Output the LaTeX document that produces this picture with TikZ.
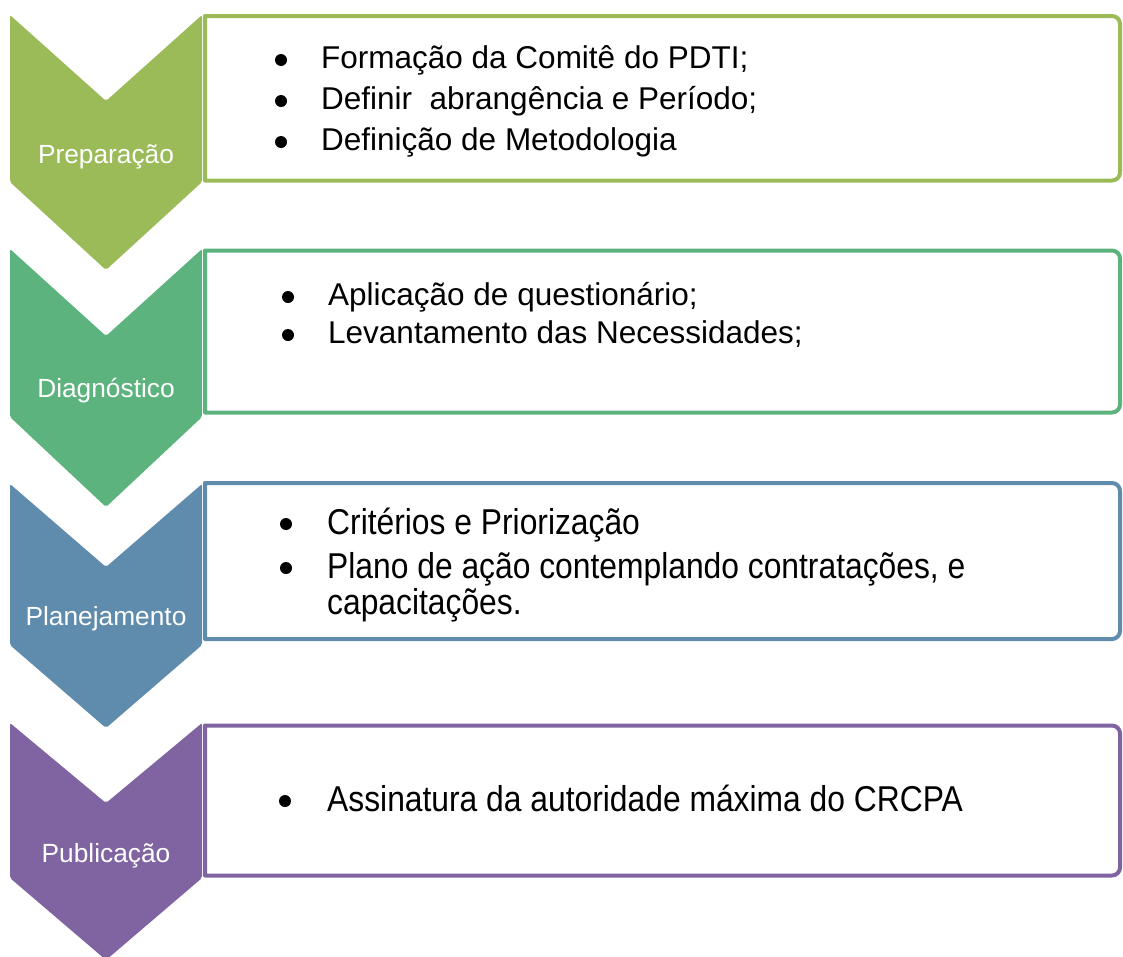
\documentclass[tikz,border=0pt]{standalone}
\usepackage{fontspec}
\setmainfont{Liberation Sans}
\definecolor{cA}{HTML}{9BBB59}
\definecolor{cB}{HTML}{5CB37D}
\definecolor{cC}{HTML}{5F8BAC}
\definecolor{cD}{HTML}{8064A2}
\tikzset{
  chev/.style={fill=#1, draw=none, rounded corners=2pt},
  boxline/.style={draw=#1, line width=4pt, line join=round},
  lab/.style={text=white, font=\fontsize{26.3}{30}\selectfont, inner sep=0pt, anchor=base},
  itm/.style={text=black, font=\fontsize{31.5}{38}\selectfont, inner sep=0pt, anchor=base west},
  itmn/.style={text=black, font=\fontsize{31.8}{38}\selectfont, inner sep=0pt, anchor=base west},
  bul/.style={circle, fill=black, inner sep=0pt, minimum size=12pt}
}
\newcommand{\talltxt}[1]{\scalebox{1}[1.13]{#1}}
\begin{document}
\begin{tikzpicture}[x=1pt,y=-1pt]
\useasboundingbox (0,0) rectangle (1123,956);

% Chevrons
\fill[chev=cA] (10,15) -- (106,101) -- (202,15) -- (202,182) -- (106,270) -- (10,182) -- cycle;
\fill[chev=cB] (10,249) -- (106,336) -- (202,249) -- (202,417) -- (106,507) -- (10,417) -- cycle;
\fill[chev=cC] (10,484) -- (106,567) -- (202,484) -- (202,645) -- (106,728) -- (10,645) -- cycle;
\fill[chev=cD] (10,723) -- (106,803) -- (202,723) -- (202,878) -- (106,960) -- (10,878) -- cycle;

% Boxes
\draw[boxline=cA] (205,16) -- (1112,16) arc[start angle=-90,end angle=0,radius=8] -- (1120,172.5) arc[start angle=0,end angle=90,radius=8] -- (205,180.5) -- cycle;
\draw[boxline=cB] (205,250.5) -- (1112,250.5) arc[start angle=-90,end angle=0,radius=8] -- (1120,404.5) arc[start angle=0,end angle=90,radius=8] -- (205,412.5) -- cycle;
\draw[boxline=cC] (205,483) -- (1112,483) arc[start angle=-90,end angle=0,radius=8] -- (1120,631) arc[start angle=0,end angle=90,radius=8] -- (205,639) -- cycle;
\draw[boxline=cD] (205,725.5) -- (1112,725.5) arc[start angle=-90,end angle=0,radius=8] -- (1120,867.5) arc[start angle=0,end angle=90,radius=8] -- (205,875.5) -- cycle;

% Labels
\node[lab] (lA) at (106,163) {Preparação};
\node[lab] (lB) at (106,397.5) {Diagnóstico};
\node[lab] (lC) at (106,625) {Planejamento};
\node[lab] (lD) at (106,862) {Publicação};

% Box 1
\node[bul] (b11) at (281,60) {};
\node[bul] (b12) at (281,101) {};
\node[bul] (b13) at (281,142) {};
\node[itm] (t11) at (321,68) {Formação da Comitê do PDTI;};
\node[itm] (t12) at (321,109) {Definir\ \ abrangência e Período;};
\node[itm] (t13) at (321,150) {Definição de Metodologia};

% Box 2
\node[bul] (b21) at (288,297) {};
\node[bul] (b22) at (288,335) {};
\node[itm] (t21) at (328,305) {Aplicação de questionário;};
\node[itm] (t22) at (328,343) {Levantamento das Necessidades;};

% Box 3
\node[bul] (b31) at (286,524) {};
\node[bul] (b32) at (286,568) {};
\node[itmn] (t31) at (327,534) {\talltxt{Critérios e Priorização}};
\node[itmn] (t32) at (327,578) {\talltxt{Plano de ação contemplando contratações, e}};
\node[itmn] (t33) at (327,614) {\talltxt{capacitações.}};

% Box 4
\node[bul] (b41) at (285,801) {};
\node[itmn] (t41) at (327,811) {\talltxt{Assinatura da autoridade máxima do CRCPA}};
\end{tikzpicture}
\end{document}
